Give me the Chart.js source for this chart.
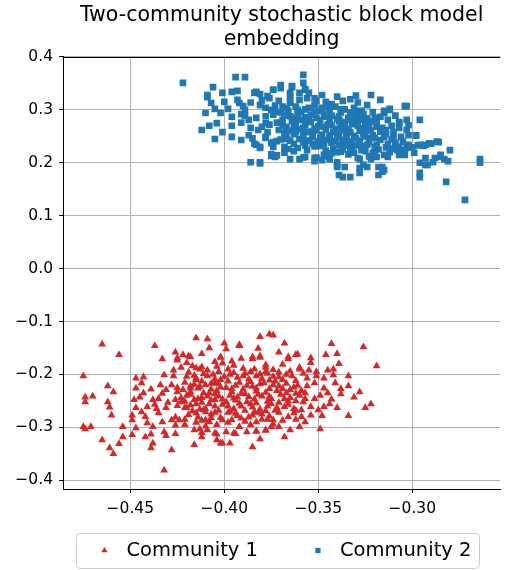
<!DOCTYPE html>
<html>
<head>
<meta charset="utf-8">
<title>Two-community stochastic block model embedding</title>
<script src="https://cdn.jsdelivr.net/npm/chart.js@4.4.1/dist/chart.umd.min.js"></script>
<style>
  html, body { margin: 0; padding: 0; background: #ffffff; }
  #wrap { width: 505px; height: 570px; }
</style>
</head>
<body>
<div id="wrap"><canvas id="sbm" width="505" height="570"></canvas></div>
<script>
// ---- data ----
const titleLines = ['Two-community stochastic block model', 'embedding'];
const legendNames = ['Community 1', 'Community 2'];
const xTicks = [-0.45, -0.40, -0.35, -0.30];
const yTicks = [-0.4, -0.3, -0.2, -0.1, 0.0, 0.1, 0.2, 0.3, 0.4];
const xRange = [-0.4858, -0.2532];
const yRange = [-0.4165, 0.4];

// community 1 (red triangles), [x, y]
const community1 = [
  [-0.465,-0.143],[-0.456,-0.163],[-0.437,-0.146],[-0.475,-0.203],[-0.462,-0.222],[-0.459,-0.233],[-0.470,-0.241],[-0.474,-0.243],
  [-0.474,-0.252],[-0.462,-0.252],[-0.461,-0.262],[-0.460,-0.277],[-0.475,-0.299],[-0.474,-0.303],[-0.471,-0.299],[-0.465,-0.324],
  [-0.454,-0.299],[-0.454,-0.318],[-0.456,-0.331],[-0.461,-0.339],[-0.459,-0.350],[-0.449,-0.314],[-0.442,-0.318],[-0.439,-0.313],
  [-0.438,-0.330],[-0.439,-0.339],[-0.432,-0.309],[-0.431,-0.316],[-0.428,-0.343],[-0.432,-0.381],
  [-0.415,-0.131],[-0.409,-0.133],[-0.412,-0.161],[-0.408,-0.150],[-0.426,-0.158],[-0.422,-0.163],[-0.418,-0.167],[-0.425,-0.173],
  [-0.420,-0.178],[-0.433,-0.171],[-0.427,-0.192],[-0.415,-0.188],[-0.412,-0.186],[-0.405,-0.176],[-0.402,-0.167],
  [-0.447,-0.207],[-0.443,-0.205],[-0.444,-0.216],[-0.447,-0.226],[-0.448,-0.248],[-0.445,-0.243],[-0.443,-0.235],[-0.447,-0.263],
  [-0.441,-0.261],[-0.444,-0.271],[-0.449,-0.277],[-0.442,-0.280],[-0.449,-0.286],[-0.438,-0.248],[-0.435,-0.246],[-0.436,-0.265],
  [-0.435,-0.273],[-0.434,-0.220],[-0.432,-0.201],[-0.431,-0.229],[-0.428,-0.220],[-0.427,-0.203],[-0.425,-0.233],[-0.426,-0.248],
  [-0.431,-0.263],[-0.428,-0.286],[-0.426,-0.281],[-0.424,-0.286],[-0.421,-0.263],[-0.423,-0.252],[-0.418,-0.226],[-0.415,-0.210],
  [-0.414,-0.226],[-0.416,-0.248],[-0.415,-0.273],[-0.411,-0.267],[-0.410,-0.286],[-0.407,-0.282],[-0.405,-0.248],[-0.408,-0.235],
  [-0.405,-0.216],[-0.402,-0.210],[-0.421,-0.295],[-0.416,-0.305],[-0.412,-0.318],[-0.409,-0.305],[-0.405,-0.311],[-0.404,-0.324],
  [-0.402,-0.330],[-0.416,-0.333],[-0.447,-0.301],[-0.438,-0.299],
  [-0.381,-0.129],[-0.376,-0.124],[-0.374,-0.126],[-0.368,-0.141],[-0.392,-0.144],[-0.400,-0.141],[-0.371,-0.158],[-0.366,-0.167],
  [-0.362,-0.163],[-0.343,-0.142],[-0.326,-0.148],[-0.319,-0.184],[-0.346,-0.163],[-0.340,-0.161],[-0.354,-0.169],[-0.354,-0.178],
  [-0.339,-0.180],[-0.342,-0.190],[-0.345,-0.192],[-0.351,-0.195],[-0.355,-0.192],[-0.360,-0.190],[-0.385,-0.167],[-0.381,-0.165],
  [-0.378,-0.182],[-0.378,-0.195],[-0.334,-0.203],[-0.334,-0.222],[-0.341,-0.216],[-0.338,-0.227],[-0.338,-0.237],[-0.347,-0.226],
  [-0.345,-0.235],[-0.352,-0.216],[-0.351,-0.203],[-0.357,-0.235],[-0.357,-0.246],[-0.362,-0.250],[-0.358,-0.252],[-0.344,-0.256],
  [-0.347,-0.261],[-0.325,-0.263],[-0.322,-0.256],[-0.334,-0.278],[-0.348,-0.278],[-0.350,-0.267],[-0.354,-0.261],[-0.354,-0.277],
  [-0.357,-0.290],[-0.359,-0.267],[-0.363,-0.273],[-0.359,-0.280],[-0.366,-0.280],[-0.374,-0.286],[-0.371,-0.299],[-0.375,-0.299],
  [-0.378,-0.305],[-0.383,-0.307],[-0.388,-0.309],[-0.395,-0.311],[-0.399,-0.309],[-0.397,-0.330],[-0.401,-0.330],[-0.381,-0.322],
  [-0.385,-0.337],[-0.368,-0.318],[-0.349,-0.303],
  [-0.399,-0.152],[-0.392,-0.146],[-0.382,-0.151],[-0.425,-0.169],[-0.419,-0.165],[-0.402,-0.168],[-0.396,-0.175],[-0.391,-0.170],
  [-0.385,-0.171],[-0.381,-0.168],[-0.366,-0.171],[-0.361,-0.162],
  [-0.423,-0.187],[-0.417,-0.184],[-0.413,-0.190],[-0.409,-0.192],[-0.404,-0.185],[-0.401,-0.179],[-0.395,-0.183],[-0.390,-0.189],
  [-0.386,-0.195],[-0.378,-0.187],[-0.374,-0.191],[-0.369,-0.181],[-0.365,-0.194],[-0.360,-0.187],
  [-0.420,-0.204],[-0.415,-0.207],[-0.409,-0.203],[-0.405,-0.209],[-0.397,-0.200],[-0.393,-0.206],[-0.387,-0.209],[-0.383,-0.203],
  [-0.380,-0.208],[-0.374,-0.204],[-0.369,-0.210],[-0.364,-0.203],
  [-0.425,-0.225],[-0.422,-0.229],[-0.416,-0.219],[-0.413,-0.223],[-0.407,-0.228],[-0.403,-0.218],[-0.399,-0.225],[-0.394,-0.221],
  [-0.390,-0.228],[-0.385,-0.223],[-0.381,-0.218],[-0.376,-0.227],[-0.371,-0.222],[-0.365,-0.229],[-0.361,-0.221],
  [-0.423,-0.244],[-0.418,-0.238],[-0.414,-0.246],[-0.409,-0.241],[-0.405,-0.237],[-0.401,-0.247],[-0.397,-0.240],[-0.393,-0.243],
  [-0.389,-0.237],[-0.384,-0.247],[-0.380,-0.241],[-0.375,-0.246],[-0.370,-0.238],[-0.365,-0.244],[-0.360,-0.240],
  [-0.425,-0.259],[-0.420,-0.263],[-0.415,-0.256],[-0.410,-0.265],[-0.405,-0.260],[-0.401,-0.257],[-0.395,-0.265],[-0.391,-0.260],
  [-0.386,-0.256],[-0.381,-0.266],[-0.377,-0.260],[-0.373,-0.268],[-0.368,-0.261],[-0.363,-0.265],
  [-0.419,-0.276],[-0.414,-0.281],[-0.407,-0.275],[-0.402,-0.282],[-0.398,-0.272],[-0.393,-0.278],[-0.387,-0.281],[-0.382,-0.272],
  [-0.376,-0.279],[-0.415,-0.291],[-0.410,-0.298],[-0.404,-0.295],[-0.398,-0.291],[-0.374,-0.294],
  [-0.426,-0.312],[-0.412,-0.310],[-0.404,-0.313],[-0.394,-0.312],[-0.383,-0.308],[-0.378,-0.306],
  [-0.419,-0.196],[-0.411,-0.199],[-0.403,-0.195],[-0.398,-0.190],[-0.389,-0.198],[-0.384,-0.190],[-0.377,-0.198],[-0.371,-0.196],
  [-0.367,-0.200],[-0.358,-0.198],
  [-0.421,-0.215],[-0.412,-0.213],[-0.407,-0.217],[-0.398,-0.213],[-0.392,-0.215],[-0.386,-0.214],[-0.379,-0.216],[-0.373,-0.213],
  [-0.367,-0.217],[-0.362,-0.212],
  [-0.418,-0.233],[-0.411,-0.235],[-0.404,-0.231],[-0.396,-0.233],[-0.391,-0.236],[-0.383,-0.232],[-0.378,-0.234],[-0.372,-0.231],
  [-0.367,-0.235],[-0.359,-0.231],
  [-0.421,-0.251],[-0.412,-0.253],[-0.407,-0.249],[-0.399,-0.252],[-0.394,-0.249],[-0.388,-0.252],[-0.383,-0.254],[-0.377,-0.251],
  [-0.371,-0.253],[-0.366,-0.250],
  [-0.417,-0.269],[-0.410,-0.271],[-0.403,-0.268],[-0.397,-0.270],[-0.389,-0.268],[-0.384,-0.271],[-0.378,-0.269],[-0.371,-0.272],
  [-0.421,-0.285],[-0.412,-0.287],[-0.396,-0.286],[-0.389,-0.289],[-0.380,-0.285],[-0.369,-0.287],[-0.362,-0.285],
  [-0.433,-0.236],[-0.439,-0.228],[-0.437,-0.257],[-0.430,-0.253],[-0.433,-0.290],[-0.441,-0.292],[-0.426,-0.296],[-0.413,-0.303],
  [-0.392,-0.299],[-0.386,-0.295],[-0.365,-0.305],[-0.360,-0.299],
  [-0.356,-0.222],[-0.352,-0.246],[-0.349,-0.240],[-0.343,-0.247],[-0.340,-0.263],[-0.331,-0.243],[-0.328,-0.233],[-0.356,-0.207],
  [-0.347,-0.207],[-0.342,-0.201],
  [-0.416,-0.202],[-0.406,-0.200],[-0.400,-0.204],[-0.395,-0.197],[-0.390,-0.203],[-0.381,-0.199],[-0.376,-0.211],[-0.371,-0.205],
  [-0.418,-0.222],[-0.410,-0.220],[-0.402,-0.224],[-0.396,-0.227],[-0.388,-0.221],[-0.383,-0.226],[-0.374,-0.220],[-0.369,-0.227],
  [-0.363,-0.224],[-0.420,-0.240],[-0.412,-0.244],[-0.403,-0.241],[-0.395,-0.245],[-0.387,-0.242],[-0.382,-0.238],[-0.376,-0.242],
  [-0.368,-0.246],[-0.362,-0.236],[-0.418,-0.258],[-0.408,-0.256],[-0.398,-0.260],[-0.392,-0.255],[-0.385,-0.262],[-0.375,-0.256],
  [-0.366,-0.257],[-0.413,-0.266],[-0.405,-0.272],[-0.394,-0.274],[-0.385,-0.277],[-0.380,-0.275],[-0.372,-0.263],[-0.362,-0.268],
  [-0.408,-0.290],[-0.401,-0.286],[-0.391,-0.283],[-0.383,-0.290],[-0.377,-0.285]
];

// community 2 (blue squares), [x, y]
const community2 = [
  [-0.422,0.351],[-0.394,0.362],[-0.389,0.362],[-0.406,0.343],[-0.409,0.328],[-0.409,0.324],[-0.401,0.332],[-0.396,0.334],
  [-0.393,0.336],[-0.407,0.313],[-0.405,0.302],[-0.410,0.294],[-0.402,0.294],[-0.400,0.315],[-0.398,0.302],[-0.393,0.319],
  [-0.392,0.313],[-0.390,0.307],[-0.389,0.300],[-0.384,0.332],[-0.381,0.330],[-0.377,0.326],[-0.374,0.338],[-0.370,0.347],
  [-0.364,0.345],[-0.358,0.366],[-0.358,0.351],[-0.404,0.275],[-0.408,0.270],[-0.412,0.262],[-0.405,0.245],[-0.401,0.258],
  [-0.396,0.249],[-0.391,0.243],[-0.396,0.270],[-0.396,0.287],[-0.391,0.292],[-0.387,0.281],[-0.386,0.266],[-0.387,0.252],
  [-0.384,0.236],[-0.381,0.230],[-0.378,0.247],[-0.375,0.237],[-0.374,0.230],[-0.367,0.245],[-0.368,0.230],[-0.368,0.219],
  [-0.375,0.213],[-0.373,0.211],[-0.386,0.201],[-0.381,0.201],[-0.365,0.207],[-0.360,0.207],[-0.357,0.211],[-0.352,0.209],
  [-0.347,0.215],[-0.344,0.207],[-0.365,0.332],[-0.365,0.319],[-0.357,0.338],[-0.355,0.332],[-0.352,0.322],
  [-0.322,0.328],[-0.317,0.319],[-0.304,0.307],[-0.312,0.300],[-0.315,0.294],[-0.296,0.281],[-0.298,0.251],[-0.286,0.239],
  [-0.291,0.237],[-0.294,0.232],[-0.296,0.234],[-0.280,0.224],[-0.285,0.211],[-0.288,0.209],[-0.283,0.207],[-0.281,0.203],
  [-0.264,0.207],[-0.264,0.200],[-0.289,0.201],[-0.293,0.196],[-0.296,0.200],[-0.293,0.209],[-0.296,0.173],[-0.282,0.164],
  [-0.272,0.130],[-0.303,0.281],[-0.307,0.275],[-0.303,0.262],[-0.306,0.249],[-0.302,0.252],[-0.303,0.228],[-0.304,0.215],
  [-0.308,0.224],[-0.307,0.215],[-0.316,0.192],[-0.315,0.186],[-0.318,0.177],[-0.328,0.181],[-0.324,0.192],[-0.328,0.190],
  [-0.336,0.192],[-0.340,0.192],[-0.339,0.177],[-0.337,0.173],[-0.333,0.173],[-0.328,0.207],[-0.322,0.207],[-0.319,0.211],
  [-0.313,0.211],[-0.340,0.201],
  [-0.383,0.334],[-0.374,0.338],[-0.370,0.341],[-0.364,0.343],[-0.357,0.339],[-0.376,0.322],[-0.371,0.317],[-0.365,0.326],
  [-0.365,0.313],[-0.360,0.319],[-0.356,0.322],[-0.351,0.317],[-0.346,0.315],[-0.343,0.311],[-0.337,0.317],[-0.333,0.320],
  [-0.329,0.314],[-0.324,0.309],
  [-0.381,0.309],[-0.378,0.304],[-0.373,0.308],[-0.367,0.303],[-0.362,0.306],[-0.357,0.301],[-0.352,0.309],[-0.348,0.304],
  [-0.341,0.306],[-0.336,0.301],[-0.331,0.304],[-0.327,0.298],
  [-0.383,0.285],[-0.378,0.288],[-0.374,0.291],[-0.370,0.295],[-0.365,0.288],[-0.361,0.293],[-0.357,0.286],[-0.352,0.297],
  [-0.347,0.292],[-0.343,0.289],[-0.338,0.295],[-0.334,0.285],[-0.329,0.290],[-0.324,0.284],
  [-0.376,0.272],[-0.372,0.276],[-0.367,0.268],[-0.362,0.274],[-0.358,0.266],[-0.354,0.277],[-0.350,0.269],[-0.345,0.272],
  [-0.341,0.264],[-0.336,0.270],[-0.332,0.273],[-0.327,0.265],[-0.323,0.269],
  [-0.378,0.249],[-0.367,0.251],[-0.363,0.254],[-0.357,0.258],[-0.353,0.249],[-0.348,0.253],[-0.344,0.246],[-0.339,0.254],
  [-0.335,0.248],[-0.331,0.251],[-0.326,0.255],[-0.323,0.246],
  [-0.383,0.234],[-0.374,0.239],[-0.363,0.236],[-0.357,0.233],[-0.352,0.231],[-0.347,0.235],[-0.342,0.227],[-0.336,0.233],
  [-0.332,0.229],[-0.327,0.231],
  [-0.381,0.228],[-0.375,0.216],[-0.372,0.214],[-0.351,0.210],[-0.345,0.212],[-0.340,0.220],[-0.334,0.216],[-0.329,0.209],
  [-0.323,0.212],[-0.381,0.199],[-0.358,0.210],[-0.352,0.203],[-0.348,0.205],[-0.340,0.196],[-0.326,0.196],
  [-0.303,0.307],[-0.315,0.298],[-0.312,0.302],[-0.320,0.285],[-0.313,0.281],[-0.307,0.277],[-0.316,0.266],[-0.307,0.266],
  [-0.302,0.271],[-0.321,0.252],[-0.314,0.254],[-0.298,0.252],[-0.319,0.234],[-0.313,0.236],[-0.307,0.230],[-0.302,0.234],
  [-0.297,0.233],[-0.293,0.234],[-0.290,0.236],[-0.287,0.240],[-0.321,0.219],[-0.315,0.215],[-0.307,0.219],[-0.299,0.219],
  [-0.285,0.215],[-0.292,0.196],[-0.318,0.192],[-0.316,0.183],[-0.296,0.181],
  [-0.372,0.296],[-0.366,0.298],[-0.359,0.296],[-0.354,0.291],[-0.349,0.298],[-0.344,0.299],[-0.339,0.288],[-0.333,0.295],
  [-0.326,0.292],[-0.321,0.296],
  [-0.369,0.281],[-0.364,0.279],[-0.359,0.281],[-0.355,0.284],[-0.349,0.280],[-0.344,0.282],[-0.339,0.278],[-0.334,0.281],
  [-0.330,0.279],[-0.325,0.276],[-0.319,0.276],
  [-0.371,0.262],[-0.365,0.261],[-0.360,0.263],[-0.355,0.259],[-0.351,0.261],[-0.346,0.263],[-0.342,0.258],[-0.337,0.261],
  [-0.333,0.258],[-0.328,0.260],[-0.322,0.261],[-0.317,0.259],
  [-0.370,0.244],[-0.365,0.242],[-0.360,0.245],[-0.355,0.242],[-0.350,0.240],[-0.346,0.243],[-0.341,0.241],[-0.337,0.243],
  [-0.333,0.240],[-0.328,0.242],[-0.323,0.239],[-0.317,0.243],[-0.311,0.244],
  [-0.366,0.226],[-0.361,0.228],[-0.356,0.224],[-0.346,0.223],[-0.338,0.221],[-0.333,0.224],[-0.325,0.222],[-0.318,0.225],
  [-0.311,0.227],[-0.309,0.238],[-0.310,0.258],[-0.311,0.270],[-0.317,0.287],[-0.309,0.289],
  [-0.380,0.318],[-0.386,0.314],[-0.378,0.275],[-0.382,0.262],[-0.385,0.246],[-0.391,0.276],[-0.389,0.289],[-0.360,0.332],
  [-0.348,0.328],[-0.340,0.325],[-0.330,0.327],
  [-0.368,0.289],[-0.362,0.285],[-0.356,0.279],[-0.351,0.285],[-0.346,0.287],[-0.340,0.283],[-0.336,0.277],[-0.331,0.285],
  [-0.327,0.281],[-0.322,0.278],[-0.369,0.270],[-0.363,0.267],[-0.357,0.272],[-0.352,0.265],[-0.347,0.268],[-0.343,0.271],
  [-0.338,0.267],[-0.334,0.264],[-0.329,0.270],[-0.324,0.263],[-0.319,0.268],[-0.314,0.262],
  [-0.368,0.256],[-0.362,0.258],[-0.358,0.251],[-0.353,0.255],[-0.349,0.247],[-0.344,0.252],[-0.340,0.248],[-0.335,0.255],
  [-0.330,0.246],[-0.325,0.250],[-0.320,0.247],[-0.315,0.249],[-0.310,0.251],
  [-0.358,0.239],[-0.353,0.236],[-0.349,0.232],[-0.343,0.238],[-0.339,0.234],[-0.334,0.236],[-0.330,0.233],[-0.324,0.234],
  [-0.320,0.230],[-0.314,0.229],[-0.309,0.232],[-0.305,0.240],
  [-0.343,0.218],[-0.337,0.225],[-0.331,0.219],[-0.327,0.224],[-0.320,0.218],[-0.312,0.220],[-0.304,0.224],[-0.300,0.229],
  [-0.375,0.300],[-0.369,0.306],[-0.361,0.300],[-0.355,0.304],[-0.345,0.306],[-0.338,0.301],[-0.330,0.298],
  [-0.380,0.268],[-0.377,0.258],[-0.372,0.241],[-0.363,0.222]
];

// ---- chart ----
Chart.defaults.font.family = "'DejaVu Sans', sans-serif";
Chart.defaults.color = '#000000';

const toPoints = arr => arr.map(p => ({ x: p[0], y: p[1] }));
const minus = s => s.replace('-', '\u2212');

// legend box under the axis, drawn like the matplotlib one
const legendBox = {
  centerX: 277, centerY: 550.5, height: 35,
  padLeft: 28, padRight: 8, markerToText: 22, itemGap: 60,
  font: "19.5px 'DejaVu Sans', sans-serif"
};

function legendMarker(ctx, style, radius, x, y) {
  if (Chart.helpers && Chart.helpers.drawPoint) {
    Chart.helpers.drawPoint(ctx, { pointStyle: style, radius: radius, rotation: 0, borderWidth: 0 }, x, y);
    return;
  }
  ctx.beginPath();
  if (style === 'triangle') {
    ctx.moveTo(x, y - radius);
    ctx.lineTo(x + radius * 0.866, y + radius * 0.5);
    ctx.lineTo(x - radius * 0.866, y + radius * 0.5);
    ctx.closePath();
  } else {
    const s = radius * Math.SQRT1_2;
    ctx.rect(x - s, y - s, 2 * s, 2 * s);
  }
  ctx.fill();
}

const framePlugin = {
  id: 'framePlugin',
  afterDraw(chart) {
    const ctx = chart.ctx;
    const a = chart.chartArea;
    ctx.save();
    // top spine
    ctx.strokeStyle = '#000000';
    ctx.lineWidth = 1;
    ctx.beginPath();
    ctx.moveTo(a.left, Math.round(a.top) + 0.5);
    ctx.lineTo(a.right, Math.round(a.top) + 0.5);
    ctx.stroke();

    // legend
    ctx.font = legendBox.font;
    const widths = legendNames.map(t => ctx.measureText(t).width);
    let total = legendBox.padLeft + legendBox.padRight + legendBox.itemGap * (legendNames.length - 1);
    widths.forEach(w => { total += legendBox.markerToText + w; });
    const left = Math.round(legendBox.centerX - total / 2) + 0.5;
    const top = Math.round(legendBox.centerY - legendBox.height / 2) + 0.5;
    ctx.fillStyle = 'rgba(255,255,255,0.8)';
    ctx.strokeStyle = '#cccccc';
    ctx.beginPath();
    ctx.roundRect(left, top, Math.round(total), legendBox.height, 4);
    ctx.fill();
    ctx.stroke();

    let x = left + legendBox.padLeft;
    ctx.textBaseline = 'middle';
    ctx.textAlign = 'left';
    chart.data.datasets.forEach((ds, i) => {
      ctx.fillStyle = ds.backgroundColor;
      legendMarker(ctx, ds.pointStyle, ds.pointStyle === 'triangle' ? 3.6 : 3.7, x, legendBox.centerY);
      ctx.fillStyle = '#000000';
      ctx.fillText(legendNames[i], x + legendBox.markerToText, legendBox.centerY);
      x += legendBox.markerToText + widths[i] + legendBox.itemGap;
    });
    ctx.restore();
  }
};

const chart = new Chart(document.getElementById('sbm'), {
  type: 'scatter',
  data: {
    datasets: [
      {
        label: legendNames[0],
        data: toPoints(community1),
        pointStyle: 'triangle',
        pointRadius: 4.5,
        pointHoverRadius: 4.5,
        backgroundColor: '#d62728',
        borderColor: '#d62728',
        borderWidth: 0
      },
      {
        label: legendNames[1],
        data: toPoints(community2),
        pointStyle: 'rect',
        pointRadius: 4.7,
        pointHoverRadius: 4.7,
        backgroundColor: '#1f77b4',
        borderColor: '#1f77b4',
        borderWidth: 0
      }
    ]
  },
  options: {
    responsive: false,
    animation: false,
    events: [],
    layout: { padding: { left: 0, right: 0, top: 0, bottom: 51 } },
    plugins: {
      title: {
        display: true,
        text: titleLines,
        fullSize: false,
        color: '#000000',
        font: { size: 20.5, weight: 'normal', lineHeight: 1.15 },
        padding: { top: 4, bottom: 5.8 }
      },
      legend: { display: false },
      tooltip: { enabled: false }
    },
    scales: {
      x: {
        type: 'linear',
        min: xRange[0],
        max: xRange[1],
        afterBuildTicks: s => { s.ticks = xTicks.map(v => ({ value: v })); },
        afterFit: s => { s.height = 30; },
        grid: { color: '#b0b0b0', lineWidth: 1, tickColor: '#000000', tickLength: 4 },
        border: { display: true, color: '#000000', width: 1 },
        ticks: {
          autoSkip: false,
          maxRotation: 0,
          padding: 7,
          color: '#000000',
          font: { size: 15.5 },
          callback: v => minus(Number(v).toFixed(2))
        }
      },
      y: {
        type: 'linear',
        min: yRange[0],
        max: yRange[1],
        afterBuildTicks: s => { s.ticks = yTicks.map(v => ({ value: v })); },
        afterFit: s => { s.width = 63; },
        grid: { color: '#b0b0b0', lineWidth: 1, tickColor: '#000000', tickLength: 4 },
        border: { display: true, color: '#000000', width: 1 },
        ticks: {
          autoSkip: false,
          padding: 6,
          color: '#000000',
          font: { size: 15.5 },
          callback: v => minus(Number(v).toFixed(1))
        }
      }
    }
  },
  plugins: [framePlugin]
});
</script>
</body>
</html>
